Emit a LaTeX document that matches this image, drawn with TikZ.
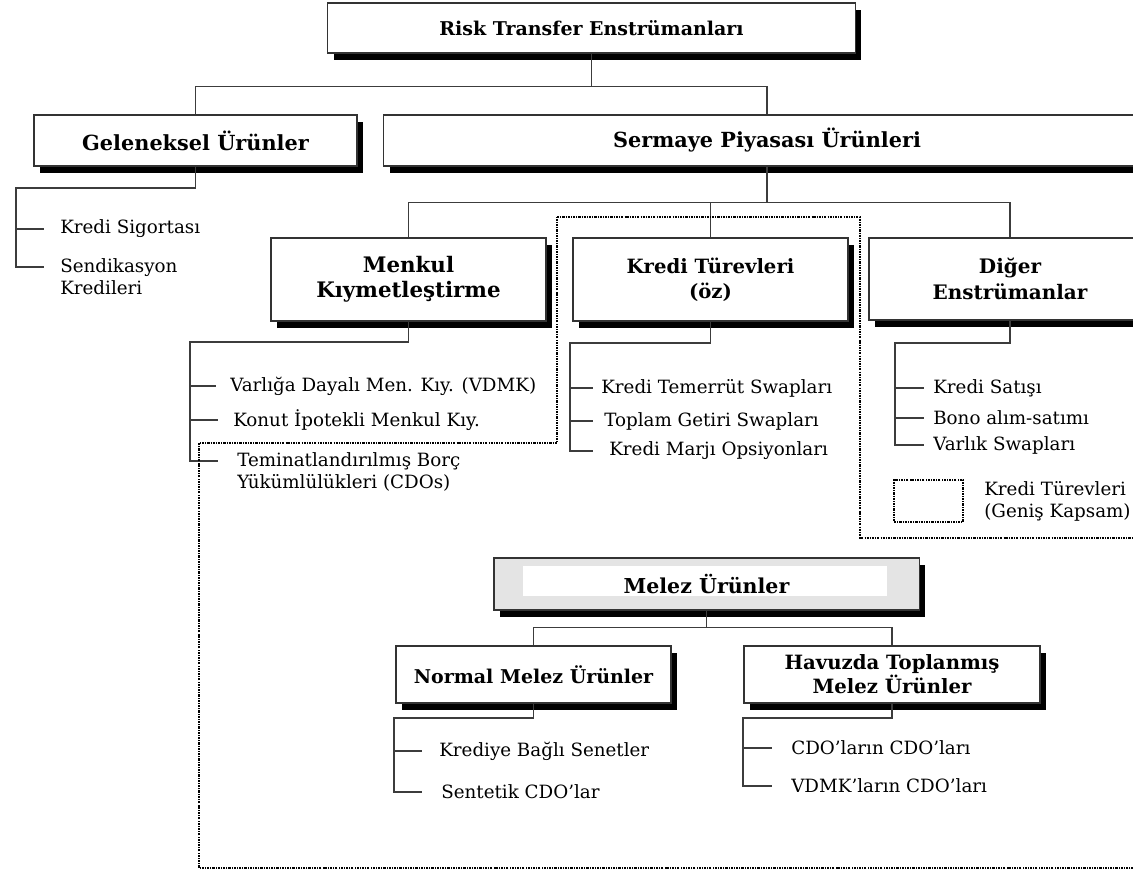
\documentclass[tikz,border=0pt]{standalone}
\usepackage{fontspec}
\setmainfont{DejaVu Serif}
\usepackage{tikz}
\usetikzlibrary{shadows, calc}
\definecolor{linkgrey}{HTML}{3C3C3C}
\definecolor{melezgrey}{HTML}{E4E4E4}

\tikzset{
  orgbox/.style={draw=black!80, fill=white, line width=0.8pt, align=center, inner sep=0pt,
    drop shadow={shadow xshift=4.5pt, shadow yshift=-5pt, fill=black, opacity=1}},
  item/.style={anchor=west, inner sep=0pt, align=left, font=\fontsize{13}{15.6}\selectfont},
  link/.style={draw=linkgrey, line width=0.8pt},
  widescope/.style={line width=1.2pt, dash pattern=on 1.6pt off 0.8pt on 0.6pt off 0.8pt}
}

\begin{document}
\begin{tikzpicture}[x=0.025cm, y=-0.025cm]
  \path[use as bounding box, fill=white] (0,0) rectangle (1133,870);
  \clip (0,0) rectangle (1133,870);

  % top levels
  \node[orgbox, minimum width=13.175cm, minimum height=1.25cm, font=\fontsize{13.5}{17}\selectfont\bfseries]
    (risk) at (591.5,28) {Risk Transfer Enstrümanları};
  \node[orgbox, minimum width=8.075cm, minimum height=1.275cm, font=\fontsize{14.8}{18}\selectfont\bfseries]
    (gel) at (195.5,140.5) {Geleneksel Ürünler};
  \node[orgbox, minimum width=19.15cm, minimum height=1.275cm, font=\fontsize{14.8}{18}\selectfont\bfseries]
    (serm) at (767,140.5) {Sermaye Piyasası Ürünleri};

  \node[orgbox, minimum width=6.875cm, minimum height=2.075cm, font=\fontsize{15.2}{18}\selectfont\bfseries]
    (menk) at (408.5,279.5) {Menkul\\Kıymetleştirme};
  \node[orgbox, minimum width=6.875cm, minimum height=2.075cm, font=\fontsize{14}{18}\selectfont\bfseries]
    (kt) at (710.5,279.5) {Kredi Türevleri\\(öz)};
  \node[orgbox, minimum width=7.05cm, minimum height=2.05cm, font=\fontsize{14.2}{18}\selectfont\bfseries]
    (dig) at (1010,279) {Diğer\\Enstrümanlar};

  \node[orgbox, fill=melezgrey, minimum width=10.625cm, minimum height=1.3cm, font=\fontsize{14.6}{18}\selectfont\bfseries,
    path picture={\fill[white] ([shift={(29,8)}]path picture bounding box.north west)
      rectangle ([shift={(-32,-14)}]path picture bounding box.south east);}]
    (melez) at (706.5,584) {Melez Ürünler};
  \node[orgbox, minimum width=6.875cm, minimum height=1.425cm, font=\fontsize{13.5}{17}\selectfont\bfseries]
    (norm) at (533.5,674.5) {Normal Melez Ürünler};
  \node[orgbox, minimum width=7.4cm, minimum height=1.425cm, font=\fontsize{14}{17}\selectfont\bfseries]
    (hav) at (892,674.5) {Havuzda Toplanmış\\Melez Ürünler};

  % items
  \node[item] (gs1) at (60,229) {Kredi Sigortası};
  \node[item, anchor=north west] (gs2) at (60,258) {Sendikasyon\\Kredileri};
  \node[item] (mk1) at (230,386) {Varlığa Dayalı Men. Kıy. (VDMK)};
  \node[item] (mk2) at (233,420) {Konut İpotekli Menkul Kıy.};
  \node[item, anchor=north west] (mk3) at (237,452) {Teminatlandırılmış Borç\\Yükümlülükleri (CDOs)};
  \node[item] (kt1) at (601,388) {Kredi Temerrüt Swapları};
  \node[item] (kt2) at (604,421) {Toplam Getiri Swapları};
  \node[item] (kt3) at (609,451) {Kredi Marjı Opsiyonları};
  \node[item] (de1) at (933,388) {Kredi Satışı};
  \node[item] (de2) at (933,418) {Bono alım-satımı};
  \node[item] (de3) at (933,445) {Varlık Swapları};
  \node[item] (nm1) at (439,751) {Krediye Bağlı Senetler};
  \node[item] (nm2) at (441,792) {Sentetik CDO'lar};
  \node[item] (hv1) at (791,748) {CDO'ların CDO'ları};
  \node[item] (hv2) at (791,786) {VDMK'ların CDO'ları};

  % legend
  \node[draw, widescope, minimum width=1.725cm, minimum height=1.05cm, inner sep=0pt] (lgbox) at (928.5,501) {};
  \node[item, anchor=west] (lgtext) at (984,501) {Kredi Türevleri\\(Geniş Kapsam)};

  % connectors
  \draw[link] (risk.south) -- ++(0,33) -| (gel.north);
  \draw[link] (risk.south) -- ++(0,33) -| (serm.north);
  \draw[link] (serm.south) -- ++(0,36) -| (menk.north);
  \draw[link] (serm.south) -- ++(0,36) -| (kt.north);
  \draw[link] (serm.south) -- ++(0,36) -| (dig.north);
  \draw[link] (melez.south) -- ++(0,17) -| (norm.north);
  \draw[link] (melez.south) -- ++(0,17) -| (hav.north);

  \coordinate (gelrail) at (16,188);
  \draw[link] (gel.south) |- (gelrail) |- ([xshift=-0.4cm,yshift=-0.225cm]gs2.north west);
  \draw[link] (gelrail |- gs1.west) -- ([xshift=-0.4cm]gs1.west);

  \coordinate (menkrail) at (190,342);
  \draw[link] (menk.south) |- (menkrail) |- ([xshift=-0.475cm,yshift=-0.225cm]mk3.north west);
  \draw[link] (menkrail |- mk1.west) -- ([xshift=-0.35cm]mk1.west);
  \draw[link] (menkrail |- mk2.west) -- ([xshift=-0.375cm]mk2.west);

  \coordinate (ktrail) at (570,343);
  \draw[link] (kt.south) |- (ktrail) |- ([xshift=-0.4cm]kt3.west);
  \draw[link] (ktrail |- kt1.west) -- ([xshift=-0.2cm]kt1.west);
  \draw[link] (ktrail |- kt2.west) -- ([xshift=-0.275cm]kt2.west);

  \coordinate (digrail) at (895,343);
  \draw[link] (dig.south) |- (digrail) |- ([xshift=-0.225cm]de3.west);
  \draw[link] (digrail |- de1.west) -- ([xshift=-0.225cm]de1.west);
  \draw[link] (digrail |- de2.west) -- ([xshift=-0.225cm]de2.west);

  \coordinate (normrail) at (394,718);
  \draw[link] (norm.south) |- (normrail) |- ([xshift=-0.475cm]nm2.west);
  \draw[link] (normrail |- nm1.west) -- ([xshift=-0.425cm]nm1.west);

  \coordinate (havrail) at (743,718);
  \draw[link] (hav.south) |- (havrail) |- ([xshift=-0.475cm]hv2.west);
  \draw[link] (havrail |- hv1.west) -- ([xshift=-0.475cm]hv1.west);

  % wide-scope credit derivatives outline
  \draw[widescope] (557,217) -- (860,217) -- (860,538) -- (1145,538) -- (1145,868)
    -- (199,868) -- (199,443) -- (557,443) -- cycle;
\end{tikzpicture}
\end{document}
